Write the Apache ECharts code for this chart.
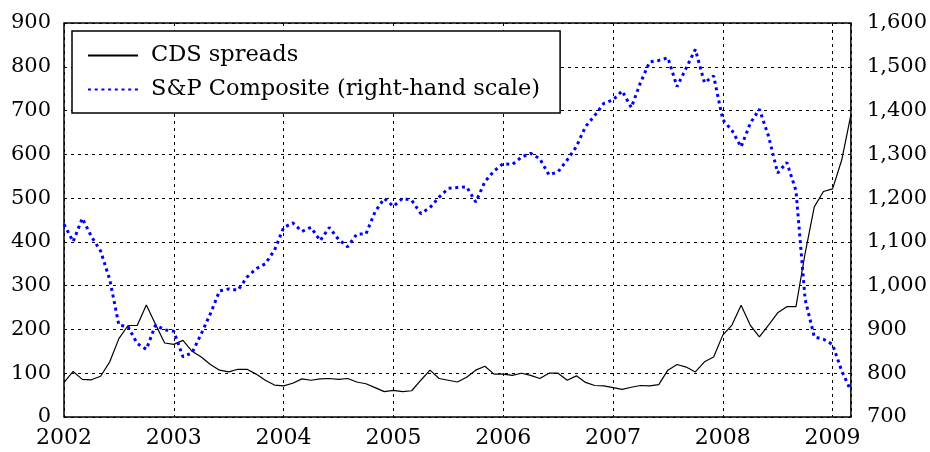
<!DOCTYPE html>
<html><head><meta charset="utf-8">
<script src="https://cdn.jsdelivr.net/npm/echarts@6/dist/echarts.min.js"></script>
<style>html,body{margin:0;padding:0;background:#fff}#c{width:930px;height:452px}</style>
</head><body><div id="c"></div>
<script>
const startYear = 2002;
const cdsSpreads = [
  79, 104, 86, 85, 93, 126, 179, 209, 209, 256, 212, 169,
  166, 175, 150, 137, 120, 107, 103, 109, 109, 98, 84, 73,
  71, 77, 87, 84, 87, 88, 86, 88, 80, 76, 67, 58,
  61, 58, 60, 84, 107, 88, 84, 80, 91, 107, 116, 98,
  98, 95, 100, 95, 88, 100, 100, 84, 94, 79, 72, 71,
  67, 63, 68, 72, 71, 74, 107, 120, 114, 103, 126, 137,
  187, 210, 255, 210, 183, 210, 238, 252, 252, 374, 480, 515,
  521, 587, 690
];
const spComposite = [
  1140.2, 1100.7, 1153.8, 1112.0, 1079.3, 1014.0, 910, 906, 867.8, 854.6, 909.9, 899.2,
  895.8, 837.6, 846.6, 890.0, 935.9, 988.0, 992.5, 989.5, 1019.4, 1038.7, 1049.9, 1080.6,
  1132.5, 1143.4, 1124.0, 1133.1, 1102.8, 1132.8, 1105.8, 1088.9, 1117.7, 1118.1, 1168.9, 1199.2,
  1181.4, 1199.6, 1194.9, 1164.4, 1178.3, 1202.3, 1222.2, 1224.3, 1225.9, 1191.0, 1237.4, 1262.1,
  1278.7, 1276.7, 1293.7, 1302.2, 1290.0, 1253.1, 1260.2, 1287.2, 1317.8, 1363.4, 1388.6, 1416.4,
  1424.2, 1444.8, 1406.8, 1463.6, 1511.1, 1514.5, 1520.7, 1454.6, 1497.1, 1539.7, 1463.4, 1479.2,
  1378.8, 1354.9, 1316.9, 1370.5, 1403.2, 1341.3, 1257.3, 1281.5, 1217.0, 968.8, 883.0, 877.6,
  865.6, 805.2, 760
];
const xTicks = [2002, 2003, 2004, 2005, 2006, 2007, 2008, 2009];
const leftTicks = [0, 100, 200, 300, 400, 500, 600, 700, 800, 900];
const rightTicks = [700, 800, 900, 1000, 1100, 1200, 1300, 1400, 1500, 1600];
const seriesNames = ['CDS spreads', 'S&P Composite (right-hand scale)'];

const toXY = arr => arr.map((v, i) => [startYear + i / 12, v]);
const lastX = startYear + (cdsSpreads.length - 1) / 12;
const font = 'DejaVu Serif';
const gridLine = { show: true, lineStyle: { color: '#000', width: 1, type: [3, 4] } };
const fmtComma = v => { const s = String(v); return s.length > 3 ? s.slice(0, s.length - 3) + ',' + s.slice(-3) : s; };

const chart = echarts.init(document.getElementById('c'), null, { renderer: 'canvas' });
chart.setOption({
  animation: false,
  backgroundColor: '#fff',
  grid: { left: 64, right: 79, top: 23, bottom: 35, show: true, borderColor: '#000', borderWidth: 1.5, backgroundColor: 'transparent' },
  legend: {
    orient: 'vertical', left: 72, top: 31,
    padding: [13, 20, 12, 15], itemGap: 11,
    itemWidth: 50, itemHeight: 22,
    backgroundColor: '#fff', borderColor: '#000', borderWidth: 1.5,
    itemStyle: { opacity: 0 },
    textStyle: { fontFamily: font, fontSize: 22.5, color: '#000', lineHeight: 22, padding: [0, 0, 0, 8] },
    data: seriesNames
  },
  xAxis: {
    type: 'value', min: xTicks[0], max: lastX, interval: 1,
    axisLine: { show: false }, axisTick: { show: false },
    splitLine: gridLine,
    axisLabel: { fontFamily: font, fontSize: 22, color: '#000', margin: 10,
      formatter: v => xTicks.includes(Math.round(v * 1000) / 1000) ? String(v) : '' }
  },
  yAxis: [
    { type: 'value', min: leftTicks[0], max: leftTicks[leftTicks.length - 1], interval: 100, position: 'left',
      axisLine: { show: false }, axisTick: { show: false }, splitLine: gridLine,
      axisLabel: { fontFamily: font, fontSize: 21, color: '#000', margin: 13 } },
    { type: 'value', min: rightTicks[0], max: rightTicks[rightTicks.length - 1], interval: 100, position: 'right',
      axisLine: { show: false }, axisTick: { show: false }, splitLine: { show: false },
      axisLabel: { fontFamily: font, fontSize: 21, color: '#000', margin: 16, formatter: fmtComma } }
  ],
  series: [
    { name: seriesNames[0], type: 'line', yAxisIndex: 0, data: toXY(cdsSpreads), symbol: 'none',
      lineStyle: { color: '#000', width: 1.2 }, itemStyle: { color: '#000' }, z: 3 },
    { name: seriesNames[1], type: 'line', yAxisIndex: 1, data: toXY(spComposite), symbol: 'none',
      lineStyle: { color: '#0000ff', width: 3, type: [3, 3.7], cap: 'butt' }, itemStyle: { color: '#0000ff' }, z: 4 }
  ]
});
</script></body></html>
